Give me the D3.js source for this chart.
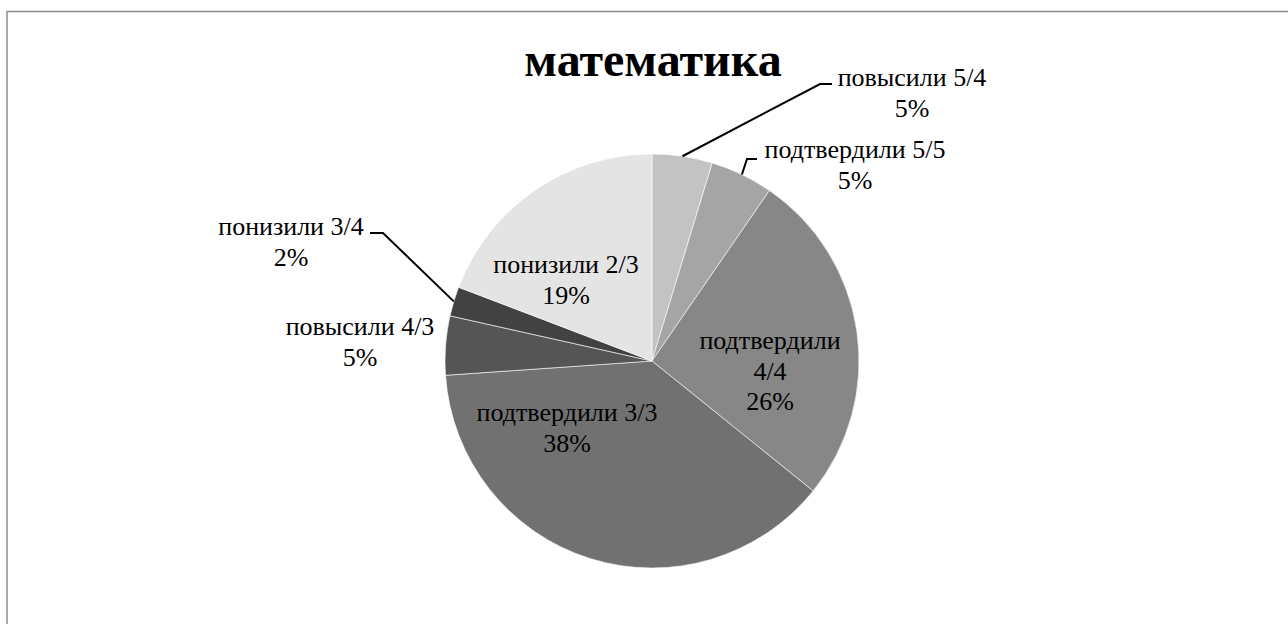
<!DOCTYPE html>
<html>
<head>
<meta charset="utf-8">
<script src="https://cdn.jsdelivr.net/npm/d3@7"></script>
<style>
    body { margin: 0; background: #fff; }
    svg { display: block; }
    text { font-family: "Liberation Serif", "Times New Roman", serif; fill: #000; }
</style>
</head>
<body>
<div id="canvas"></div>
<script>
"use strict"

// slice names (two lines where the label wraps) and their shares
let categories = ["повысили 5/4", "подтвердили 5/5", "подтвердили 4/4", "подтвердили 3/3",
                  "повысили 4/3", "понизили 3/4", "понизили 2/3"];
let values = [4.7, 4.9, 26.2, 38.1, 4.6, 2.3, 19.2];
let title = "математика";

let shades = ["#c3c3c3", "#a5a5a5", "#878787", "#717171", "#555555", "#424242", "#e4e4e4"];

// where each label sits: first baseline, line breaks, optional leader elbow
let labelLayout = [
    { x: 912, y: 86,  lines: ["повысили 5/4"],       elbow: [820, 84],  end: [832, 84] },
    { x: 855, y: 158, lines: ["подтвердили 5/5"],    elbow: [747, 159], end: [757, 159] },
    { x: 770, y: 349, lines: ["подтвердили", "4/4"] },
    { x: 567, y: 421, lines: ["подтвердили 3/3"] },
    { x: 360, y: 335, lines: ["повысили 4/3"] },
    { x: 291, y: 235, lines: ["понизили 3/4"],       elbow: [383, 233], end: [370, 233] },
    { x: 566, y: 273, lines: ["понизили 2/3"] }
];

let width = 1288, height = 624;
let cx = 652, cy = 361, radius = 207;
let lineStep = 30.5;

let drawing = d3.select("#canvas")
    .append("svg")
    .attr("width", width)
    .attr("height", height);

// chart frame, runs off the right and bottom like the original
drawing.append("rect")
    .attr("x", 7)
    .attr("y", 11.5)
    .attr("width", width)
    .attr("height", height)
    .attr("fill", "none")
    .attr("stroke", "#8c8c8c")
    .attr("stroke-width", 1.5);

drawing.append("text")
    .attr("x", 653)
    .attr("y", 76)
    .attr("text-anchor", "middle")
    .attr("font-size", 48)
    .attr("font-weight", "bold")
    .text(title);

let total = d3.sum(values);
let pct = d3.format(".0%");

let pie = d3.pie().sort(null).value(d => d);
let arcs = pie(values);
let arc = d3.arc().innerRadius(0).outerRadius(radius);
let rim = d3.arc().innerRadius(radius).outerRadius(radius);

let chart = drawing.append("g")
    .attr("transform", `translate(${cx},${cy})`);

chart.selectAll("path.slice")
    .data(arcs)
    .enter()
    .append("path")
    .attr("class", "slice")
    .attr("d", arc)
    .attr("fill", (d, i) => shades[i])
    .attr("stroke", "#fff")
    .attr("stroke-width", 0.6);

// leader lines from the rim to the outside labels
arcs.forEach((d, i) => {
    let lay = labelLayout[i];
    if (!lay.elbow) return;
    let p = rim.centroid(d);
    let pts = [[p[0] + cx, p[1] + cy], lay.elbow, lay.end];
    drawing.append("path")
        .attr("d", d3.line()(pts))
        .attr("fill", "none")
        .attr("stroke", "#000")
        .attr("stroke-width", 2);
});

arcs.forEach((d, i) => {
    let lay = labelLayout[i];
    let lines = lay.lines.concat([pct(values[i] / total)]);
    let t = drawing.append("text")
        .attr("text-anchor", "middle")
        .attr("font-size", 26);
    lines.forEach((s, k) => {
        t.append("tspan")
            .attr("x", lay.x)
            .attr("y", lay.y + k * lineStep)
            .text(s);
    });
});
</script>
</body>
</html>
